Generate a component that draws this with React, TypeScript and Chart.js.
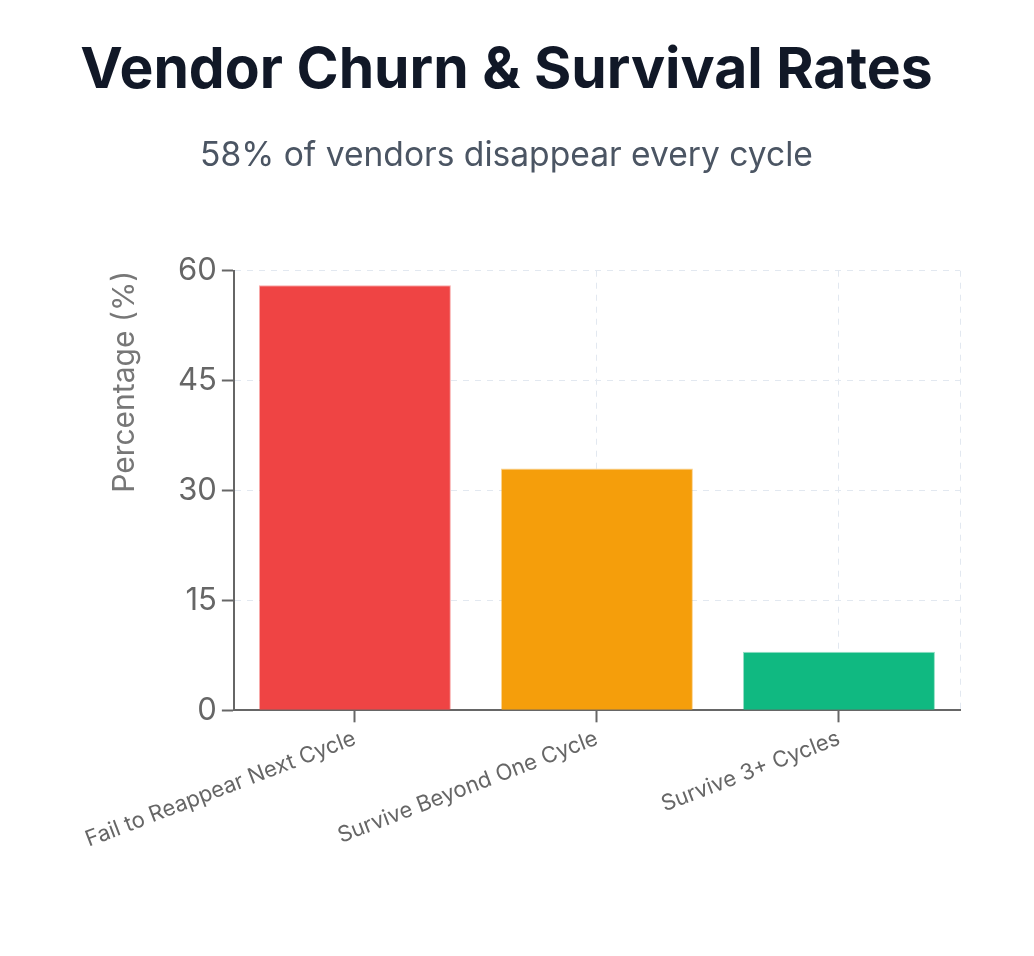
import React, { useEffect, useRef } from "react";
import { Chart, registerables } from "chart.js";

Chart.register(...registerables);

const categories: string[] = [
  "Fail to Reappear Next Cycle",
  "Survive Beyond One Cycle",
  "Survive 3+ Cycles",
];
const percentages: number[] = [58, 33, 8];
const barColors: string[] = ["#ef4444", "#f59e0b", "#10b981"];
const barEdgeColors: string[] = [
  "rgba(239,68,68,0.45)",
  "rgba(245,158,11,0.45)",
  "rgba(16,185,129,0.45)",
];
const yTickValues: number[] = [0, 15, 30, 45, 60];

const titleText = "Vendor Churn & Survival Rates";
const subtitleText = "58% of vendors disappear every cycle";
const yAxisTitle = "Percentage (%)";

const FONT = "Inter, 'Noto Sans', sans-serif";
const GRID = "#e2e8f0";
const AXIS = "#666666";

const rightEdgePlugin = {
  id: "rightEdgeGrid",
  beforeDatasetsDraw(chart: any) {
    const { ctx, chartArea } = chart;
    ctx.save();
    ctx.strokeStyle = GRID;
    ctx.lineWidth = 1;
    ctx.setLineDash([6, 6]);
    ctx.beginPath();
    ctx.moveTo(Math.round(chartArea.right) + 0.5, chartArea.top);
    ctx.lineTo(Math.round(chartArea.right) + 0.5, chartArea.bottom);
    ctx.stroke();
    ctx.restore();
  },
};

export default function App() {
  const canvasRef = useRef<HTMLCanvasElement | null>(null);

  useEffect(() => {
    if (!canvasRef.current) return;
    const chart = new Chart(canvasRef.current, {
      type: "bar",
      data: {
        labels: categories,
        datasets: [
          {
            data: percentages,
            backgroundColor: barColors,
            borderColor: barEdgeColors,
            borderWidth: 1,
            categoryPercentage: 1,
            barPercentage: 0.793,
          },
        ],
      },
      options: {
        animation: false,
        responsive: false,
        maintainAspectRatio: false,
        layout: { padding: { left: 45, right: 66, top: 0, bottom: 92 } },
        plugins: {
          legend: { display: false },
          tooltip: { enabled: false },
          title: {
            display: true,
            text: titleText,
            color: "#111827",
            font: { family: FONT, size: 57, weight: "bold" },
            padding: { top: 29, bottom: 12 },
          },
          subtitle: {
            display: true,
            text: subtitleText,
            color: "#4b5563",
            font: { family: FONT, size: 33.6, weight: "normal" },
            padding: { top: 18, bottom: 95 },
          },
        },
        scales: {
          x: {
            grid: {
              offset: false,
              color: (ctx: any) => (ctx.index === 0 ? "rgba(0,0,0,0)" : GRID),
              lineWidth: 1,
              tickColor: AXIS,
              tickLength: 12,
              tickWidth: 2,
              tickBorderDash: [],
            },
            border: { display: true, color: AXIS, width: 2, dash: [6, 6] },
            ticks: {
              color: AXIS,
              font: { family: FONT, size: 22 },
              minRotation: 21,
              maxRotation: 21,
              padding: 3,
              autoSkip: false,
            },
          },
          y: {
            min: 0,
            max: 60,
            afterBuildTicks: (scale: any) => {
              scale.ticks = yTickValues.map((v) => ({ value: v }));
            },
            grid: {
              color: GRID,
              lineWidth: 1,
              tickColor: AXIS,
              tickLength: 12,
              tickWidth: 2,
              tickBorderDash: [],
            },
            border: { display: true, color: AXIS, width: 2, dash: [6, 6] },
            ticks: {
              color: AXIS,
              font: { family: FONT, size: 31 },
              padding: 5,
            },
            title: {
              display: true,
              text: yAxisTitle,
              align: "end",
              color: "#777777",
              font: { family: FONT, size: 30 },
              padding: { top: 54, bottom: 30 },
            },
          },
        },
      },
      plugins: [rightEdgePlugin],
    });
    return () => chart.destroy();
  }, []);

  return (
    <div style={{ width: 1018, height: 940 }}>
      <canvas ref={canvasRef} width={1018} height={940} style={{ width: 1018, height: 940 }} />
    </div>
  );
}
